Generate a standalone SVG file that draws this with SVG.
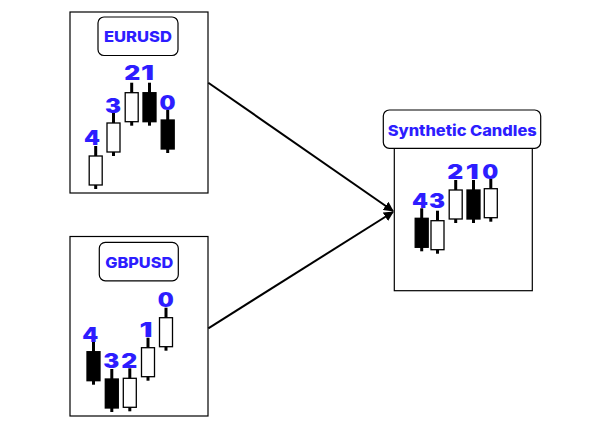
<svg xmlns="http://www.w3.org/2000/svg" width="611" height="429" viewBox="0 0 611 429">
<style>
.frame{fill:#fff;stroke:#000;stroke-width:1.2}
.tag{fill:#fff;stroke:#000;stroke-width:1.2}
.tagtxt{font-family:Inter,"Liberation Sans",sans-serif;font-weight:800;font-size:14.8px;fill:#2d1dff;text-anchor:middle}
.num{font-family:Inter,"Liberation Sans",sans-serif;font-weight:900;font-size:19.5px;fill:#2d1dff;text-anchor:middle}
.wick{stroke:#000;stroke-width:3}
.bw{fill:#fff;stroke:#000;stroke-width:1.3}
.bb{fill:#000;stroke:#000;stroke-width:1.3}
.conn{stroke:#000;stroke-width:2;fill:none}
</style>
<defs>
<marker id="arr" viewBox="0 0 10 10" refX="9" refY="5" markerWidth="5" markerHeight="5" orient="auto" markerUnits="strokeWidth">
<path d="M0,0 L10,5 L0,10 z" fill="#000"/>
</marker>
</defs>
<rect width="611" height="429" fill="#fff"/>

<g id="eurusd">
<rect class="frame" x="70" y="12" width="138" height="181"/>
<rect class="tag" x="98" y="17" width="80" height="38.5" rx="6"/>
<text class="tagtxt" x="138" y="42.3" textLength="68" lengthAdjust="spacingAndGlyphs">EURUSD</text>
<line class="wick" x1="95.7" y1="146" x2="95.7" y2="189"/>
<rect class="bw" x="89.2" y="156" width="13" height="29"/>
<text class="num" x="92" y="145" textLength="16" lengthAdjust="spacingAndGlyphs">4</text>
<line class="wick" x1="113.5" y1="113" x2="113.5" y2="156"/>
<rect class="bw" x="107" y="123" width="13" height="29"/>
<text class="num" x="113" y="113" textLength="16" lengthAdjust="spacingAndGlyphs">3</text>
<line class="wick" x1="131.7" y1="82.7" x2="131.7" y2="125.7"/>
<rect class="bw" x="125.2" y="92.7" width="13" height="29"/>
<text class="num" x="132.2" y="79.5" textLength="16" lengthAdjust="spacingAndGlyphs">2</text>
<line class="wick" x1="149.5" y1="82.7" x2="149.5" y2="125.7"/>
<rect class="bb" x="143" y="92.7" width="13" height="29"/>
<text class="num" x="147.5" y="79.5" textLength="13" lengthAdjust="spacingAndGlyphs">1</text>
<line class="wick" x1="167.7" y1="110" x2="167.7" y2="153"/>
<rect class="bb" x="161.2" y="120" width="13" height="29"/>
<text class="num" x="167.5" y="109.7" textLength="16" lengthAdjust="spacingAndGlyphs">0</text>
</g>

<g id="gbpusd">
<rect class="frame" x="70" y="236.5" width="138" height="179.5"/>
<rect class="tag" x="99.3" y="242.3" width="79" height="38.5" rx="6"/>
<text class="tagtxt" x="139.2" y="267.7" textLength="68" lengthAdjust="spacingAndGlyphs">GBPUSD</text>
<line class="wick" x1="93.5" y1="341.7" x2="93.5" y2="384.7"/>
<rect class="bb" x="87" y="351.7" width="13" height="29"/>
<text class="num" x="90.2" y="341.5" textLength="16" lengthAdjust="spacingAndGlyphs">4</text>
<line class="wick" x1="111.8" y1="369" x2="111.8" y2="412"/>
<rect class="bb" x="105.3" y="379" width="13" height="29"/>
<text class="num" x="111.3" y="368.3" textLength="16" lengthAdjust="spacingAndGlyphs">3</text>
<line class="wick" x1="129.8" y1="368.3" x2="129.8" y2="411.3"/>
<rect class="bw" x="123.3" y="378.3" width="13" height="29"/>
<text class="num" x="129.2" y="368.3" textLength="16" lengthAdjust="spacingAndGlyphs">2</text>
<line class="wick" x1="148" y1="337.7" x2="148" y2="380.7"/>
<rect class="bw" x="141.5" y="347.7" width="13" height="29"/>
<text class="num" x="146" y="337" textLength="13" lengthAdjust="spacingAndGlyphs">1</text>
<line class="wick" x1="166" y1="307.7" x2="166" y2="350.7"/>
<rect class="bw" x="159.5" y="317.7" width="13" height="29"/>
<text class="num" x="165.8" y="307" textLength="16" lengthAdjust="spacingAndGlyphs">0</text>
</g>

<g id="synthetic">
<rect class="frame" x="394.3" y="148.3" width="138" height="142.4"/>
<rect class="tag" x="383.3" y="110" width="157.4" height="38.3" rx="6"/>
<text class="tagtxt" x="462.2" y="135.5" textLength="149" lengthAdjust="spacingAndGlyphs">Synthetic Candles</text>
<line class="wick" x1="421.7" y1="208.3" x2="421.7" y2="251.3"/>
<rect class="bb" x="415.2" y="218.3" width="13" height="29"/>
<text class="num" x="420" y="208.3" textLength="16" lengthAdjust="spacingAndGlyphs">4</text>
<line class="wick" x1="437.5" y1="210.7" x2="437.5" y2="253.7"/>
<rect class="bw" x="431" y="220.7" width="13" height="29"/>
<text class="num" x="437" y="208.3" textLength="16" lengthAdjust="spacingAndGlyphs">3</text>
<line class="wick" x1="455.7" y1="180" x2="455.7" y2="223"/>
<rect class="bw" x="449.2" y="190" width="13" height="29"/>
<text class="num" x="455.3" y="179" textLength="16" lengthAdjust="spacingAndGlyphs">2</text>
<line class="wick" x1="473.5" y1="180" x2="473.5" y2="223"/>
<rect class="bb" x="467" y="190" width="13" height="29"/>
<text class="num" x="472.3" y="179" textLength="13" lengthAdjust="spacingAndGlyphs">1</text>
<line class="wick" x1="490.8" y1="178.7" x2="490.8" y2="221.7"/>
<rect class="bw" x="484.3" y="188.7" width="13" height="29"/>
<text class="num" x="490.3" y="179" textLength="16" lengthAdjust="spacingAndGlyphs">0</text>
</g>

<g id="connectors">
<line class="conn" x1="208.3" y1="82.7" x2="393" y2="211" marker-end="url(#arr)"/>
<line class="conn" x1="208.3" y1="328.3" x2="393" y2="212" marker-end="url(#arr)"/>
</g>
</svg>
